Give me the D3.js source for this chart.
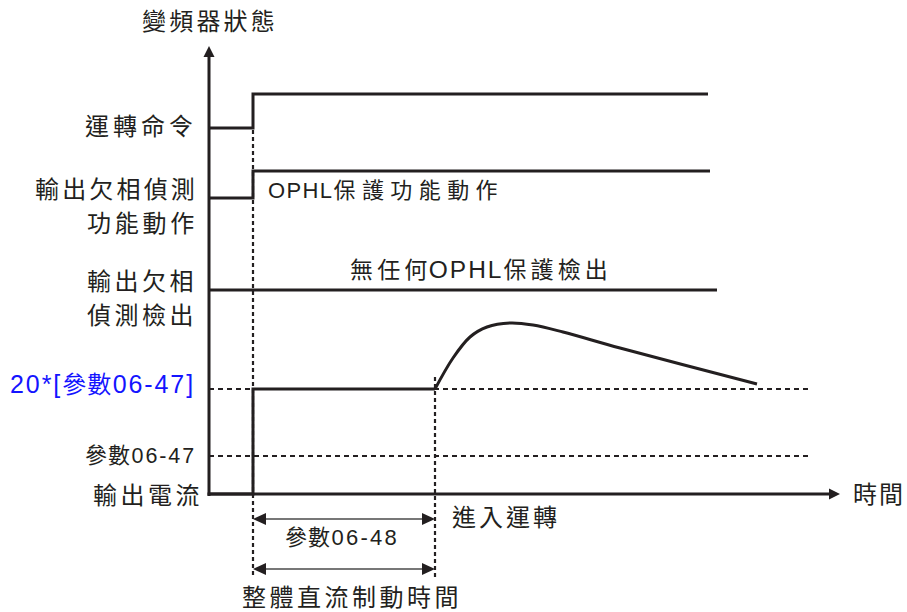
<!DOCTYPE html>
<html><head><meta charset="utf-8">
<script src="https://cdn.jsdelivr.net/npm/d3@7"></script>
<style>body{margin:0;background:#fff}</style>
</head><body>
<svg id="c" width="907" height="612" xmlns="http://www.w3.org/2000/svg"></svg>
<script>
// ---------- data ----------
const timeDomain = [0, 631];
const tBrakeStart = 44;
const tBrakeEnd = 226;
const tRefEnd = 598;
const runCommand = [[0, 0], [44, 0], [44, 1], [499, 1]];
const ophlFunction = [[0, 0], [44, 0], [44, 1], [501, 1]];
const ophlDetect = [[0, 0], [508, 0]];
const param0647Level = 19;
const brakeLevel = 52.5;
const currentStep = [[0, 0], [44, 0], [44, 52.5], [226, 52.5]];
const currentRun = [[226, 52.5], [244, 68], [261, 78.5], [278, 83.5], [301, 85.5], [324, 84.5], [354, 81], [411, 73], [548, 55]];
const yTitle = "變頻器狀態";
const xTitle = "時間";
const leftLabels = ["運轉命令", "輸出欠相偵測", "功能動作", "輸出欠相", "偵測檢出", "20*[參數06-47]", "參數06-47", "輸出電流"];
const innerLabels = ["OPHL保護功能動作", "無任何OPHL保護檢出", "參數06-48", "整體直流制動時間", "進入運轉"];

// ---------- layout ----------
const svg = d3.select("#c");
const ink = "#231f20";
const x = d3.scaleLinear().domain(timeDomain).range([209, 840]);
const yCur = d3.scaleLinear().domain([0, 100]).range([494, 294]);
const yRun = d3.scaleLinear().domain([0, 1]).range([128, 94]);
const yOphl = d3.scaleLinear().domain([0, 1]).range([198, 171]);
const yDet = d3.scaleLinear().domain([0, 1]).range([290, 263]);

// dotted reference lines
const dotH = "5,4", dotV = "4,3";
svg.append("line").attr("x1", x(0)).attr("x2", x(tRefEnd + 1)).attr("y1", yCur(brakeLevel)).attr("y2", yCur(brakeLevel))
  .attr("stroke", ink).attr("stroke-width", 2.2).attr("stroke-dasharray", dotH);
svg.append("line").attr("x1", x(0)).attr("x2", x(tRefEnd + 2)).attr("y1", yCur(param0647Level)).attr("y2", yCur(param0647Level))
  .attr("stroke", ink).attr("stroke-width", 2.2).attr("stroke-dasharray", dotH);
svg.append("line").attr("x1", x(tBrakeStart)).attr("x2", x(tBrakeStart)).attr("y1", yRun(0) + 2).attr("y2", 578)
  .attr("stroke", ink).attr("stroke-width", 2.2).attr("stroke-dasharray", dotV);
svg.append("line").attr("x1", x(tBrakeEnd)).attr("x2", x(tBrakeEnd)).attr("y1", 377).attr("y2", 578)
  .attr("stroke", ink).attr("stroke-width", 2.2).attr("stroke-dasharray", dotV);

// axes
svg.append("line").attr("x1", x(0)).attr("x2", x(0)).attr("y1", 496).attr("y2", 55)
  .attr("stroke", ink).attr("stroke-width", 3);
svg.append("path").attr("d", `M${x(0)},46 L${x(0) - 5.5},57 L${x(0) + 5.5},57 Z`).attr("fill", ink);
svg.append("line").attr("x1", x(0) - 1.5).attr("x2", 832).attr("y1", yCur(0)).attr("y2", yCur(0))
  .attr("stroke", ink).attr("stroke-width", 3);
svg.append("path").attr("d", `M${x(timeDomain[1])},${yCur(0)} L${x(timeDomain[1]) - 11},${yCur(0) - 5.5} L${x(timeDomain[1]) - 11},${yCur(0) + 5.5} Z`).attr("fill", ink);

// signals
function sig(data, ys, curve) {
  svg.append("path").datum(data)
    .attr("d", d3.line().x(d => x(d[0])).y(d => ys(d[1])).curve(curve || d3.curveLinear))
    .attr("fill", "none").attr("stroke", ink).attr("stroke-width", 3).attr("stroke-linejoin", "miter");
}
sig(runCommand, yRun);
sig(ophlFunction, yOphl);
sig(ophlDetect, yDet);
sig(currentStep, yCur);
sig(currentRun, yCur, d3.curveCatmullRom);

// bottom duration arrows
function dimArrow(y) {
  const a = x(tBrakeStart), b = x(tBrakeEnd);
  svg.append("line").attr("x1", a + 8).attr("x2", b - 8).attr("y1", y).attr("y2", y)
    .attr("stroke", "#4a4a4a").attr("stroke-width", 1.6);
  svg.append("path").attr("d", `M${a},${y} L${a + 13},${y - 6} L${a + 13},${y + 6} Z`).attr("fill", ink);
  svg.append("path").attr("d", `M${b},${y} L${b - 13},${y - 6} L${b - 13},${y + 6} Z`).attr("fill", ink);
}
dimArrow(519);
dimArrow(569);

// text: CJK glyphs / Latin runs with separate spacing; one of them absorbs the fit
const latinFam = "'Liberation Sans', Arial, sans-serif";
const cjkFam = "'Noto Sans CJK TC', sans-serif";
const isCJK = c => /[\u3000-\u9fff\uf900-\ufaff]/.test(c);
function label(t, left, base, width, size, o) {
  o = o || {};
  const latinSize = o.latinSize || size;
  const chars = Array.from(t);
  const pieces = [];
  chars.forEach((c, i) => {
    const cj = isCJK(c);
    const nextLatin = i + 1 < chars.length && !isCJK(chars[i + 1]);
    const kind = cj ? (nextLatin ? "cjkTight" : "cjk") : "latin";
    const last = pieces[pieces.length - 1];
    if (last && last.kind === kind && kind !== "cjkTight") last.text += c;
    else pieces.push({ kind, text: c });
  });
  const txt = svg.append("text").attr("x", left).attr("y", base).attr("fill", o.color || ink);
  let total = 0, nC = 0, nL = 0, nT = 0;
  pieces.forEach(p => {
    const cj = p.kind !== "latin";
    p.s = txt.append("tspan").text(p.text)
      .attr("font-family", cj ? cjkFam : latinFam)
      .attr("font-size", cj ? size : latinSize);
    total += p.s.node().getComputedTextLength();
    const n = Array.from(p.text).length;
    if (p.kind === "cjk") nC += n; else if (p.kind === "latin") nL += n; else nT += n;
  });
  let cjkSp, latinSp, tightSp = 1.5;
  if (o.fitLatin) {
    cjkSp = o.cjkSp == null ? 1 : o.cjkSp;
    latinSp = (width - total - cjkSp * nC - tightSp * nT) / nL;
  } else {
    latinSp = o.latinSp == null ? 1.4 : o.latinSp;
    cjkSp = nC ? (width - total - latinSp * nL - tightSp * nT) / nC : 0;
  }
  pieces.forEach(p => p.s.attr("letter-spacing", p.kind === "cjk" ? cjkSp : p.kind === "latin" ? latinSp : tightSp));
}
label(yTitle, 142, 30, 136, 24);
label(xTitle, 853, 503, 52, 24);
const leftPos = [
  [85, 135, 112, 24], [35, 198, 163, 24], [87, 232, 111, 24], [87, 290, 110, 24], [87, 324, 110, 24],
  [10, 393, 185, 24, { color: "#1414ff", latinSize: 25, fitLatin: true }],
  [85, 463, 111, 22, { latinSize: 21.5, fitLatin: true }],
  [93, 504, 110, 24]
];
leftPos.forEach((p, i) => label(leftLabels[i], p[0], p[1], p[2], p[3], p[4]));
const innerPos = [
  [268, 198, 236, 22, { latinSize: 22 }],
  [350, 278, 262, 23, { latinSize: 24.5, latinSp: 2 }],
  [285, 545, 114, 22, { latinSize: 22, fitLatin: true }],
  [242, 606, 220, 24],
  [452, 526, 108, 24]
];
innerPos.forEach((p, i) => label(innerLabels[i], p[0], p[1], p[2], p[3], p[4]));
</script>
</body></html>
